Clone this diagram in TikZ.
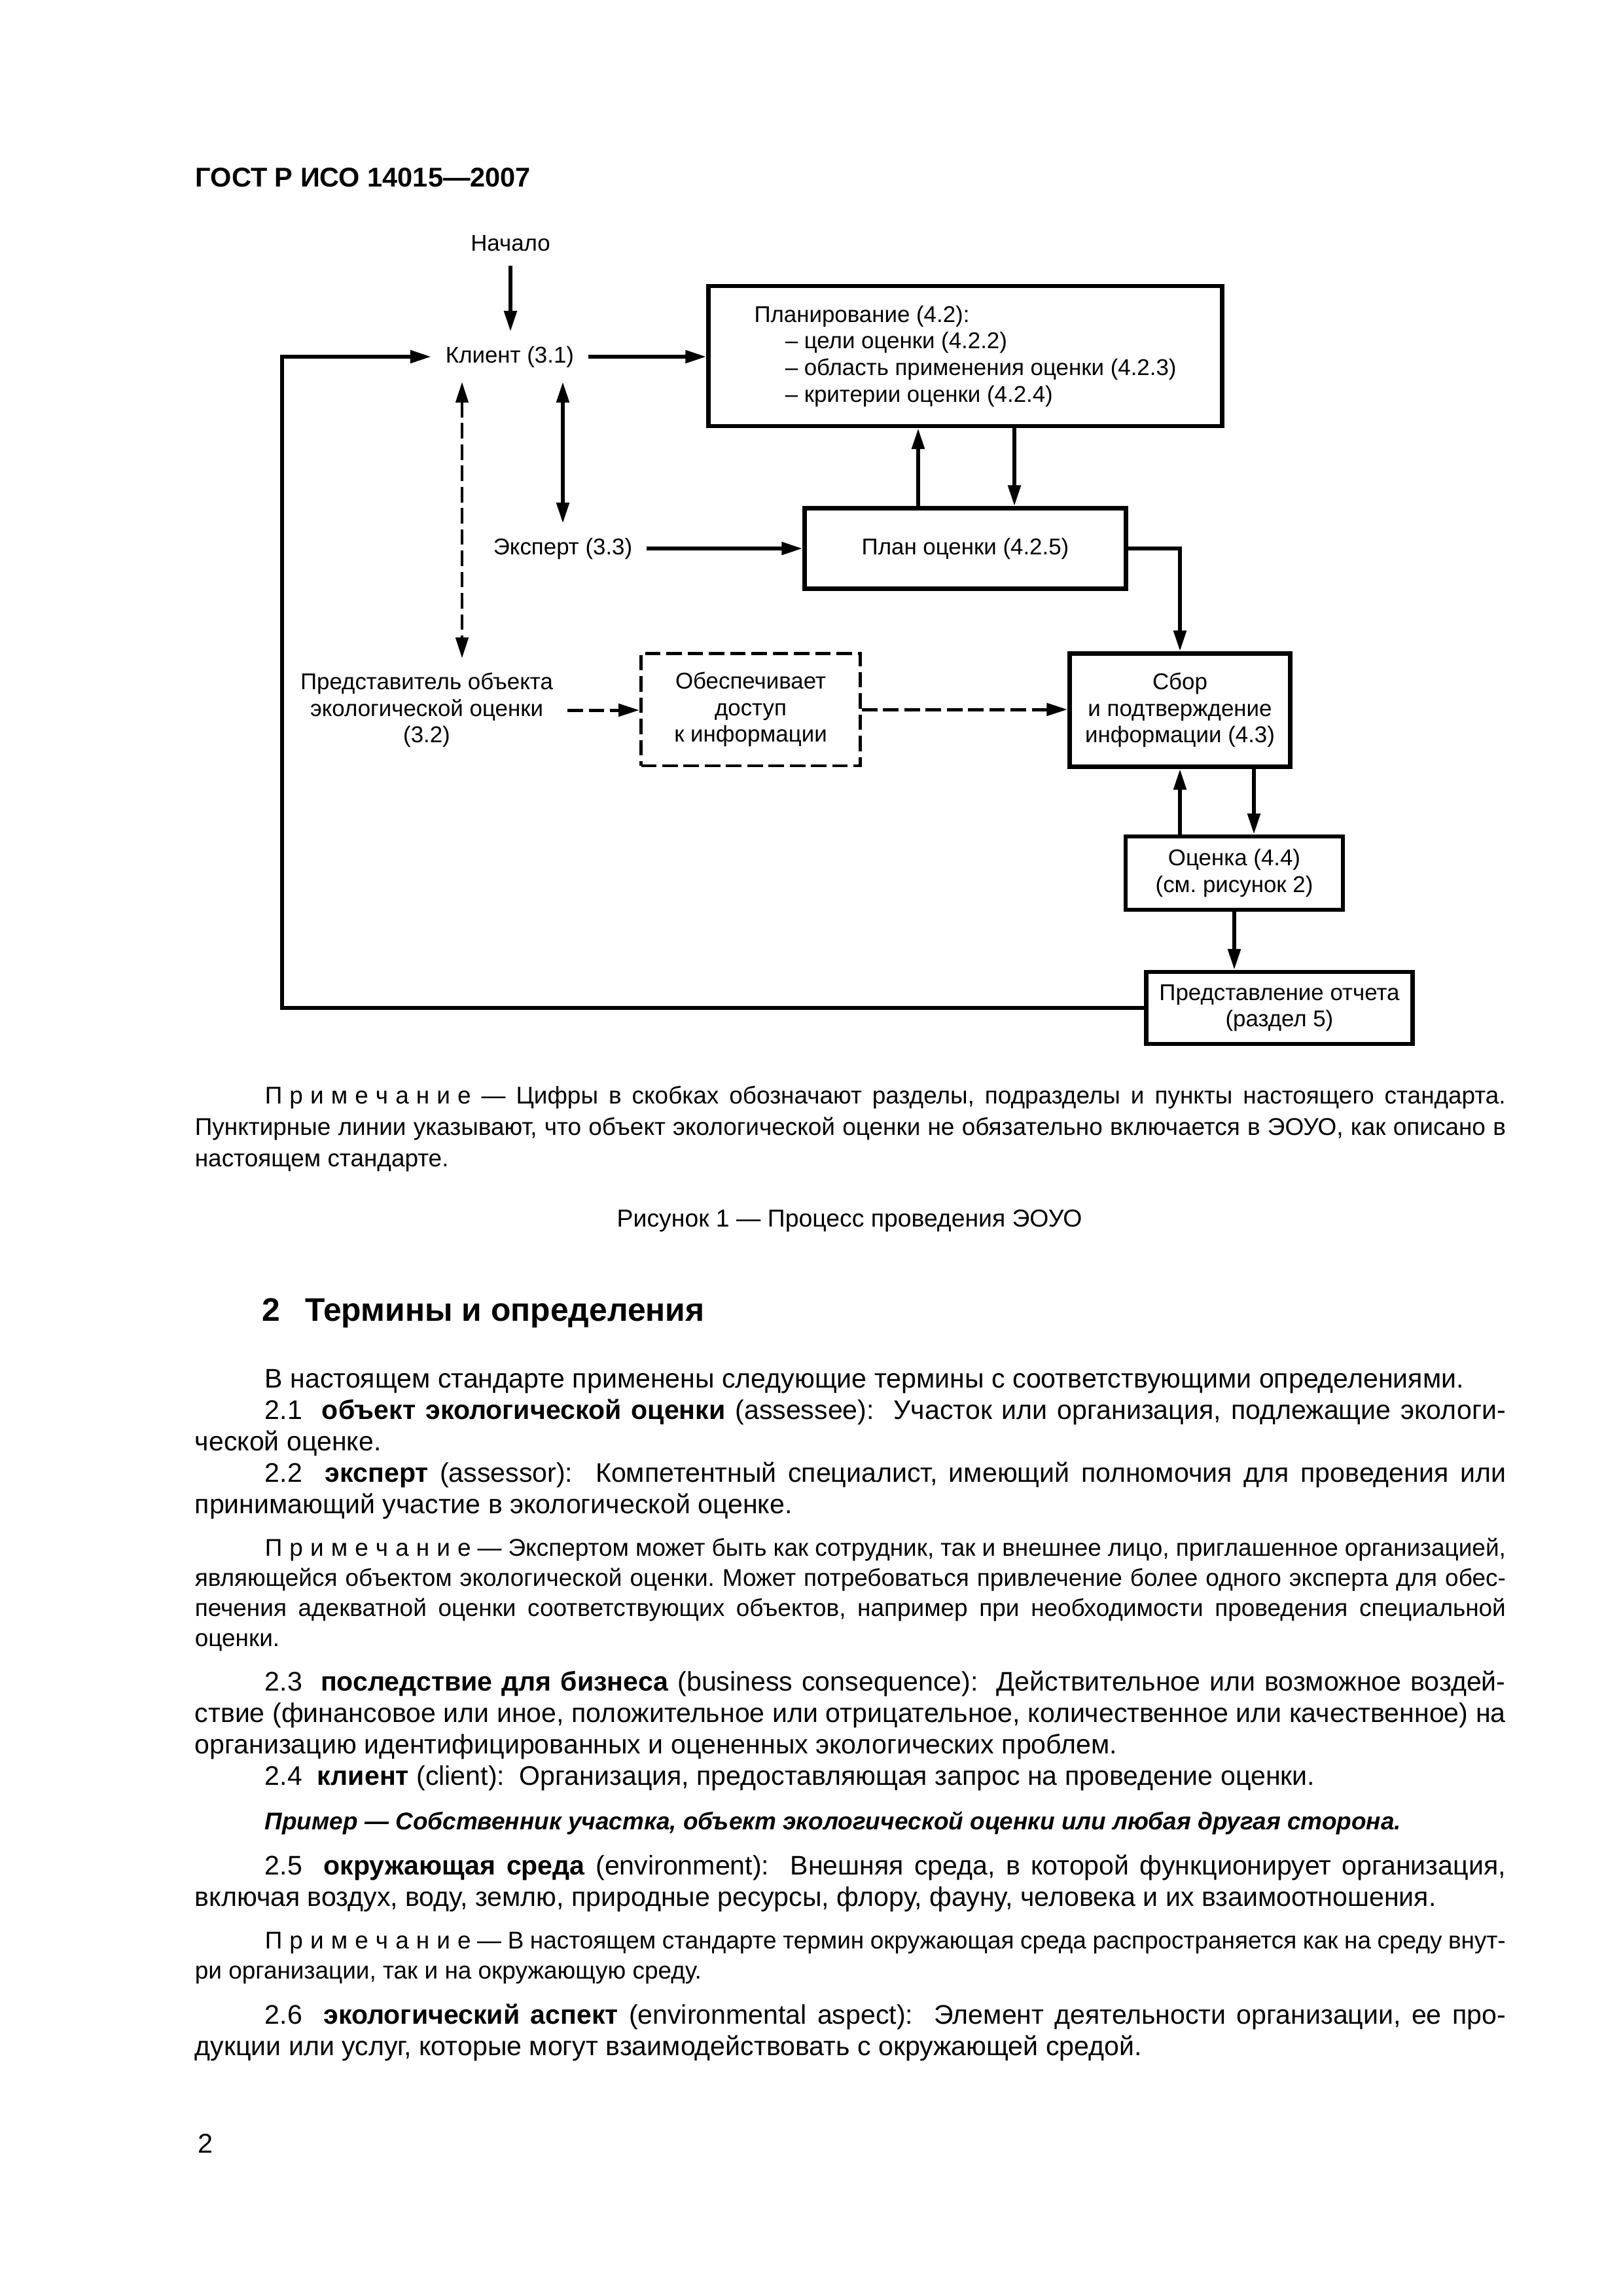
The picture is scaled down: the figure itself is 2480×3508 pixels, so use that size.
\documentclass[tikz,border=0pt]{standalone}
\usepackage{fontspec}
\setmainfont{Liberation Sans}
\usetikzlibrary{positioning}
\usetikzlibrary{calc}
\usetikzlibrary{arrows.meta}
\frenchspacing
\newcommand{\diagfont}{\fontsize{8.4pt}{9.8pt}\selectfont}
\newcommand{\bodyfont}{\fontsize{9.9pt}{11.6pt}\selectfont}
\newcommand{\notefont}{\fontsize{8.9pt}{11.1pt}\selectfont}
\newcommand{\indpar}{\hspace*{9.06mm}}
\newcommand{\notehead}{П\kern.3em р\kern.3em и\kern.3em м\kern.3em е\kern.3em ч\kern.3em а\kern.3em н\kern.3em и\kern.3em е}

\begin{document}
\begin{tikzpicture}
    [x=0.08467mm, y=-0.08467mm,
    >={Triangle[length=2.7mm, width=1.6mm]},
    lbl/.style={font=\diagfont, inner sep=1.8mm, align=center},
    block/.style={draw, line width=1.6pt, font=\diagfont, align=center, inner sep=0pt},
    dblock/.style={block, line width=1.2pt, dash pattern=on 2mm off 0.75mm},
    arr/.style={->, line width=1.4pt},
    darr/.style={line width=1.2pt, dash pattern=on 2mm off 0.75mm},
    para/.style={anchor=base west, inner sep=0pt, text width=169.59mm, align=justify}]
     \fill[white] (0,0) rectangle (2480,3508);
     \node[anchor=base west, inner sep=0pt, font=\fontsize{10pt}{12pt}\selectfont\bfseries] (hdr) at (298,285) {ГОСТ Р ИСО 14015—2007};
     % diagram
     \node[lbl] (start)  at (780,372)   {Начало};
     \node[lbl] (client) at (779,545)   {Клиент (3.1)};
     \node[lbl] (expert) at (860,838)   {Эксперт (3.3)};
     \node[lbl] (rep)    at (652,1085)  {Представитель объекта\\экологической оценки\\(3.2)};
     \node[block, minimum width=66.46mm, minimum height=18.12mm, align=left] (planning) at (1475,544)
        {Планирование (4.2):\\\hspace*{4mm}– цели оценки (4.2.2)\\\hspace*{4mm}– область применения оценки (4.2.3)\\\hspace*{4mm}– критерии оценки (4.2.4)};
     \node[block, minimum width=41.57mm, minimum height=10.41mm] (plan)   at (1475,838)  {План оценки (4.2.5)};
     \node[dblock, minimum width=28.36mm, minimum height=14.56mm] (access) at (1147,1084) {Обеспечивает\\доступ\\к информации};
     \node[block, minimum width=28.53mm, minimum height=14.65mm] (sbor)   at (1803,1085) {Сбор\\и подтверждение\\информации (4.3)};
     \node[block, minimum width=28.11mm, minimum height=9.48mm]  (eval)   at (1886,1334) {Оценка (4.4)\\(см. рисунок 2)};
     \node[block, minimum width=34.46mm, minimum height=9.31mm]  (report) at (1955,1540) {Представление отчета\\(раздел 5)};
     \coordinate (fb) at (431,545);
     \coordinate (dtop) at ($(client.south)+(-73,0)$);
     \coordinate (pu) at ($(plan.north)+(-72,0)$);
     \coordinate (pd) at ($(plan.north)+(75,0)$);
     \coordinate (ed) at ($(eval.north)+(30,0)$);
     \draw[arr] (start) -- (start |- client.north);
     \draw[arr] (client) -- (client -| planning.west);
     \draw[arr] (report) -| (fb) -- (client);
     \draw[arr, <->] (expert.north |- client.south) -- (expert);
     \draw[darr, <->] (dtop) -- (dtop |- rep.north);
     \draw[arr] (expert) -- (expert -| plan.west);
     \draw[arr] (pu) -- (pu |- planning.south);
     \draw[arr] (pd |- planning.south) -- (pd);
     \draw[arr] (plan) -| (sbor);
     \draw[darr, ->] (rep) -- (rep -| access.west);
     \draw[darr, ->] (access) -- (access -| sbor.west);
     \draw[arr] (sbor.south |- eval.north) -- (sbor.south);
     \draw[arr] (ed |- sbor.south) -- (ed);
     \draw[arr] (eval) -- (eval |- report.north);
     % text of the page
     \node[para, font=\fontsize{8.9pt}{11.6pt}\selectfont] (fignote) at (297,1686)
        {\indpar\notehead{} — Цифры в скобках обозначают разделы, подразделы и пункты настоящего стандарта.\linebreak
        Пунктирные линии указывают, что объект экологической оценки не обязательно включается в ЭОУО, как описано в\linebreak
        настоящем стандарте.};
     \node[anchor=base, inner sep=0pt, font=\fontsize{9pt}{11pt}\selectfont] (caption) at (1298,1874) {Рисунок 1 — Процесс проведения ЭОУО};
     \node[anchor=base west, inner sep=0pt, font=\fontsize{12pt}{14pt}\selectfont\bfseries] (sec) at (400,2018) {2\hspace{3.2mm}Термины и определения};
     \node[para, font=\bodyfont] (terms) at (297,2120)
        {\indpar В настоящем стандарте применены следующие термины с соответствующими определениями.\par
        \indpar 2.1~~\textbf{объект экологической оценки} (assessee):~~Участок или организация, подлежащие экологи-\linebreak
        ческой оценке.\par
        \indpar 2.2~~\textbf{эксперт} (assessor):~~Компетентный специалист, имеющий полномочия для проведения или\linebreak
        принимающий участие в экологической оценке.};
     \node[para, font=\notefont] (note2) at (297,2377)
        {\indpar\notehead{} — Экспертом может быть как сотрудник, так и внешнее лицо, приглашенное организацией,\linebreak
        являющейся объектом экологической оценки. Может потребоваться привлечение более одного эксперта для обес-\linebreak
        печения адекватной оценки соответствующих объектов, например при необходимости проведения специальной\linebreak
        оценки.};
     \node[para, font=\bodyfont] (terms2) at (297,2583)
        {\indpar 2.3~~\textbf{последствие для бизнеса} (business consequence):~~Действительное или возможное воздей-\linebreak
        ствие (финансовое или иное, положительное или отрицательное, количественное или качественное) на\linebreak
        организацию идентифицированных и оцененных экологических проблем.\par
        \indpar 2.4~~\textbf{клиент} (client):~~Организация, предоставляющая запрос на проведение оценки.};
     \node[para, font=\fontsize{8.9pt}{11pt}\selectfont\bfseries\itshape] (example) at (297,2795)
        {\indpar Пример — Собственник участка, объект экологической оценки или любая другая сторона.};
     \node[para, font=\bodyfont] (terms3) at (297,2864)
        {\indpar 2.5~~\textbf{окружающая среда} (environment):~~Внешняя среда, в которой функционирует организация,\linebreak
        включая воздух, воду, землю, природные ресурсы, флору, фауну, человека и их взаимоотношения.};
     \node[para, font=\notefont] (note3) at (297,2977)
        {\indpar\notehead{} — В настоящем стандарте термин окружающая среда распространяется как на среду внут-\linebreak
        ри организации, так и на окружающую среду.};
     \node[para, font=\bodyfont] (terms4) at (297,3092)
        {\indpar 2.6~~\textbf{экологический аспект} (environmental aspect):~~Элемент деятельности организации, ее про-\linebreak
        дукции или услуг, которые могут взаимодействовать с окружающей средой.};
     \node[anchor=base west, inner sep=0pt, font=\fontsize{10pt}{12pt}\selectfont] (pageno) at (302,3289) {2};
\end{tikzpicture}
\end{document}
